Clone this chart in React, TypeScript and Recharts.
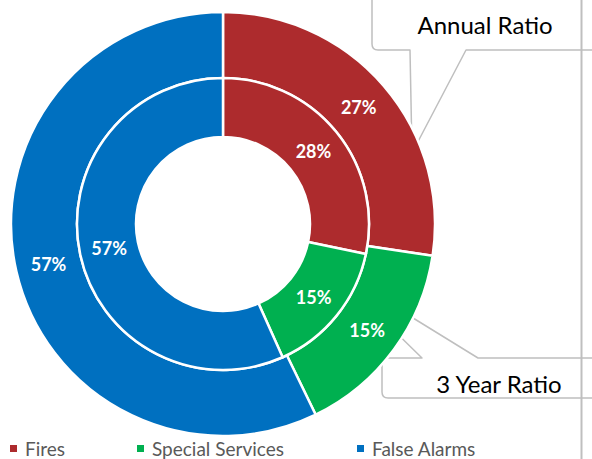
import React from 'react';
import { PieChart, Pie, Cell, Legend, Customized } from 'recharts';

const categories = ['Fires', 'Special Services', 'False Alarms'];
const annualShare = [27.4, 15.4, 57.2];
const threeYearShare = [28.3, 15.0, 56.7];
const colors = ['#AD2B2D', '#00B050', '#0070C0'];

const W = 592;
const H = 459;
const CX = 223;
const CY = 224;
const RAD = Math.PI / 180;
const legendX = [10, 137, 357];

const annualData = categories.map((name, i) => ({ name, value: annualShare[i] }));
const threeYearData = categories.map((name, i) => ({ name, value: threeYearShare[i] }));

const renderLabel = (p: any) => {
  const r = (p.innerRadius + p.outerRadius) / 2;
  const x = p.cx + r * Math.cos(-p.midAngle * RAD);
  const y = p.cy + r * Math.sin(-p.midAngle * RAD);
  return (
    <text
      x={x}
      y={y}
      fill="#fff"
      textAnchor="middle"
      dominantBaseline="central"
      fontFamily="Lato, sans-serif"
      fontWeight={700}
      fontSize={18}
    >
      {`${Math.round(p.percent * 100)}%`}
    </text>
  );
};

// keep the category order instead of the sorted legend payload
const renderLegend = () => (
  <div style={{ position: 'relative', width: W, height: 23 }}>
    {categories.map((name, i) => (
      <div
        key={name}
        style={{
          position: 'absolute',
          left: legendX[i],
          top: 0,
          height: 23,
          display: 'flex',
          alignItems: 'center',
          fontFamily: 'Lato, sans-serif',
          fontSize: 19,
          color: '#595959',
          whiteSpace: 'nowrap',
        }}
      >
        <span style={{ width: 7, height: 7, background: colors[i], marginRight: 8, display: 'inline-block' }} />
        {name}
      </div>
    ))}
  </div>
);

// callout boxes with pointers, drawn over the chart
const Callouts = () => (
  <g>
    <line x1={581.5} y1={0} x2={581.5} y2={H} stroke="#BFBFBF" strokeWidth={2} />
    <path
      d="M410,50 L412,153 L466,50 L600,50 L600,-6 L372,-6 L372,44 Q372,50 378,50 Z"
      fill="none"
      stroke="#BFBFBF"
      strokeWidth={1.5}
      strokeLinejoin="round"
    />
    <text x={485} y={34} textAnchor="middle" fontFamily="Lato, sans-serif" fontSize={24} fill="#000">
      Annual Ratio
    </text>
    <path
      d="M422,358 L327,265 L478,358 L600,358 L600,398 L388,398 Q382,398 382,392 L382,364 Q382,358 388,358 Z"
      fill="none"
      stroke="#BFBFBF"
      strokeWidth={1.5}
      strokeLinejoin="round"
    />
    <text x={499} y={393} textAnchor="middle" fontFamily="Lato, sans-serif" fontSize={24} fill="#000">
      3 Year Ratio
    </text>
  </g>
);

export default function App() {
  return (
    <div style={{ position: 'absolute', left: 0, top: 0, width: W, height: H, background: '#fff', overflow: 'hidden' }}>
      <PieChart width={W} height={H} margin={{ top: 0, right: 0, bottom: 0, left: 0 }}>
        <Pie
          data={annualData}
          dataKey="value"
          nameKey="name"
          cx={CX}
          cy={CY}
          innerRadius={146}
          outerRadius={212}
          startAngle={90}
          endAngle={-270}
          stroke="#fff"
          strokeWidth={2.5}
          label={renderLabel}
          labelLine={false}
          isAnimationActive={false}
        >
          {annualData.map((d, i) => (
            <Cell key={d.name} fill={colors[i]} />
          ))}
        </Pie>
        <Pie
          data={threeYearData}
          dataKey="value"
          nameKey="name"
          cx={CX}
          cy={CY}
          innerRadius={87}
          outerRadius={146}
          startAngle={90}
          endAngle={-270}
          stroke="#fff"
          strokeWidth={2.5}
          label={renderLabel}
          labelLine={false}
          legendType="none"
          isAnimationActive={false}
        >
          {threeYearData.map((d, i) => (
            <Cell key={d.name} fill={colors[i]} />
          ))}
        </Pie>
        <Customized component={Callouts} />
        <Legend
          content={renderLegend}
          wrapperStyle={{ position: 'absolute', left: 0, top: 437, width: W, height: 23 }}
        />
      </PieChart>
    </div>
  );
}
